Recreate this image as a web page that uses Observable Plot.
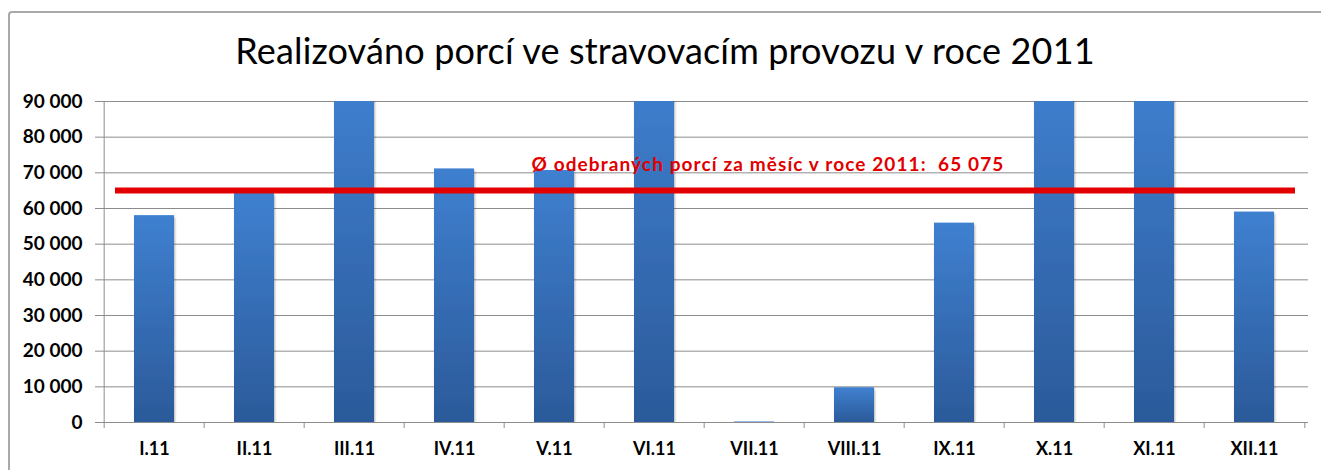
<!DOCTYPE html>
<html><head><meta charset="utf-8">
<script src="https://cdn.jsdelivr.net/npm/d3@7"></script>
<script src="https://cdn.jsdelivr.net/npm/@observablehq/plot@0.6"></script>
<style>
body{margin:0;background:#fff;width:1321px;height:470px;overflow:hidden;position:relative;font-family:Lato,sans-serif}
#frame{position:absolute;left:8px;top:11px;width:1400px;height:600px;border:2px solid #a9a9a9;border-radius:4px;box-sizing:border-box}
#title{position:absolute;left:0;width:1330px;top:31px;text-align:center;font-size:36px;color:#000;line-height:38px;letter-spacing:0.15px}
#chart{position:absolute;left:0;top:80px}
</style></head><body>
<div id="frame"></div>
<div id="title">Realizováno porcí ve stravovacím provozu v roce 2011</div>
<div id="chart"></div>
<script>
const months = ["I.11","II.11","III.11","IV.11","V.11","VI.11","VII.11","VIII.11","IX.11","X.11","XI.11","XII.11"];
const portions = [58000, 64200, 96500, 71100, 70650, 99000, 150, 9750, 55900, 98500, 98150, 59000];
const average = 65075;
const yTicks = [0, 10000, 20000, 30000, 40000, 50000, 60000, 70000, 80000, 90000];
const avgLabel = "Ø odebraných porcí za měsíc v roce 2011:\u00a0 65 075";
const labelMonth = "V.11";

const data = months.map((m, i) => ({month: m, value: portions[i]}));
const W = 1321, ML = 100, MR = 13;
const step = (W - ML - MR) / months.length;
const fmt = d => d3.format(",")(d).replace(/,/g, "\u00a0");
const grid = "#8c8c8c";

const chart = Plot.plot({
  width: W, height: 390,
  marginTop: 21, marginBottom: 48, marginLeft: ML, marginRight: MR,
  style: {fontFamily: "Lato, sans-serif", fontSize: "18px", fontWeight: "bold", color: "#000", background: "transparent"},
  x: {domain: months, paddingInner: 0.6, paddingOuter: 0.3, label: null, tickSize: 0, tickPadding: 20},
  y: {domain: [0, 90000], ticks: yTicks, tickFormat: fmt, tickSize: 5, tickPadding: 13, label: null},
  marks: [
    Plot.ruleY(yTicks, {stroke: grid, strokeWidth: 1}),
    Plot.ruleX([months[0]], {y1: 0, y2: 90000, dx: -step / 2, stroke: grid}),
    Plot.ruleX(months, {y1: 0, y2: 0, insetBottom: -6, dx: -step / 2, stroke: grid}),
    Plot.ruleX([months[months.length - 1]], {y1: 0, y2: 0, insetBottom: -6, dx: step / 2, stroke: grid}),
    Plot.barY(data, {x: "month", y: "value", fill: "url(#barGrad)", clip: true}),
    Plot.ruleY([average], {stroke: "#e30000", strokeWidth: 6, insetLeft: 15, insetRight: 13}),
    Plot.text([{m: labelMonth, v: average, t: avgLabel}], {x: "m", y: "v", text: "t", textAnchor: "start", dx: -23, dy: -25, fill: "#e00000", fontSize: 19, fontWeight: "bold"})
  ]
});
const svg = chart.tagName.toLowerCase() === "svg" ? chart : chart.querySelector("svg");
d3.select(svg).insert("defs", ":first-child").html(
  '<linearGradient id="barGrad" x1="0" y1="0" x2="0" y2="1">' +
  '<stop offset="0" stop-color="#3f80d0"/><stop offset="1" stop-color="#2b5a9a"/></linearGradient>' +
  '<filter id="shadow" x="-5%" y="-5%" width="115%" height="130%"><feDropShadow dx="1" dy="2" stdDeviation="1" flood-color="#000" flood-opacity="0.3"/></filter>');
d3.select(svg).selectAll('[aria-label="y-axis tick"] path, [aria-label="y-axis tick"]').attr("stroke", grid);
d3.select(svg).selectAll("text")
  .filter(function () { return /^\d/.test(this.textContent); })
  .attr("font-size", 19).style("font-size", "19px");
d3.select(svg).selectAll("text")
  .filter(function () { return this.textContent.includes("Ø"); })
  .attr("letter-spacing", "1.1").style("letter-spacing", "1.1px");
d3.select(svg).selectAll('[aria-label="bar"] rect').attr("filter", "url(#shadow)");
document.getElementById("chart").appendChild(chart);
</script>
</body></html>
